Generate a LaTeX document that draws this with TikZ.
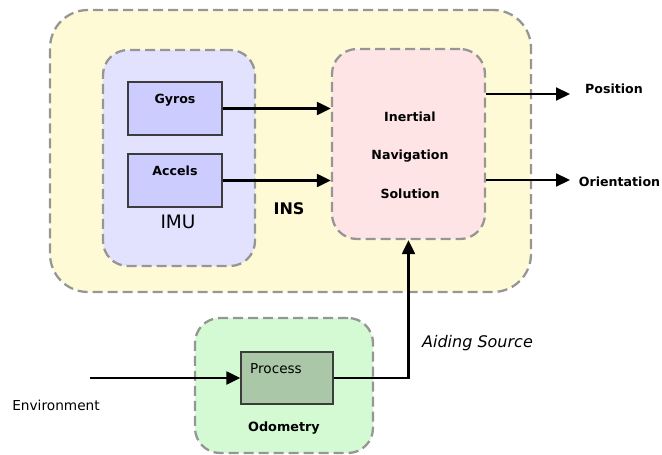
\documentclass[tikz,border=0pt]{standalone}
\usepackage{fontspec}
\setmainfont{DejaVu Sans}
\usetikzlibrary{arrows.meta}

\definecolor{dashgray}{RGB}{150,150,150}
\definecolor{insfill}{RGB}{255,250,214}
\definecolor{imufill}{RGB}{226,226,255}
\definecolor{sensorfill}{RGB}{204,204,255}
\definecolor{navfill}{RGB}{255,228,230}
\definecolor{odofill}{RGB}{212,250,212}
\definecolor{procfill}{RGB}{170,200,168}
\definecolor{edgedark}{RGB}{60,60,60}

\tikzset{
  group/.style={draw=dashgray, line width=2.3pt, dash pattern=on 10pt off 5pt,
    inner sep=0pt, rounded corners=#1},
  group/.default=25pt,
  unit/.style={draw=edgedark, line width=1.3pt, inner sep=0pt},
  flow/.style={line width=2.2pt, -{Triangle[length=14pt,width=13pt]}},
  boldlabel/.style={font=\fontsize{12.6}{14}\selectfont\bfseries, inner sep=0pt},
  reglabel/.style={font=\fontsize{13.6}{16}\selectfont, inner sep=0pt},
}

\begin{document}
\begin{tikzpicture}[x=1pt, y=-1pt]
  \useasboundingbox (0,0) rectangle (662,455);

  % INS enclosure and its inner groups
  \node[group=38pt, fill=insfill, minimum width=481pt, minimum height=282pt] (ins) at (290.5,151) {};
  \node[group, fill=imufill, minimum width=152pt, minimum height=216pt] (imu) at (179,158) {};
  \node[group, fill=navfill, minimum width=153pt, minimum height=190pt] (nav) at (408.5,144) {};

  % Odometry group
  \node[group, fill=odofill, minimum width=178pt, minimum height=135pt] (odo) at (284,385.5) {};

  % Sensor and process blocks
  \node[unit, fill=sensorfill, minimum width=94pt, minimum height=53pt] (gyros) at (175,108.5) {};
  \node[unit, fill=sensorfill, minimum width=94pt, minimum height=53pt] (accels) at (175,180.5) {};
  \node[unit, fill=procfill, minimum width=92pt, minimum height=52pt] (proc) at (287,378) {};

  % Labels
  \node[boldlabel] (gyrostxt) at (175,100) {Gyros};
  \node[boldlabel] (accelstxt) at (175,171) {Accels};
  \node[font=\fontsize{18.5}{20}\selectfont, inner sep=0pt] (imutxt) at (178,222) {IMU};
  \node[font=\fontsize{16}{18}\selectfont\bfseries, inner sep=0pt] (instxt) at (289,209) {INS};
  \node[boldlabel, align=center, font=\fontsize{12.6}{38.5}\selectfont\bfseries] (navtxt) at (410,155)
    {Inertial\\Navigation\\Solution};
  \node[reglabel, anchor=west] (proctxt) at (250,369) {Process};
  \node[font=\fontsize{12.8}{14}\selectfont\bfseries, inner sep=0pt] (odotxt) at (284,428) {Odometry};
  \node[boldlabel] (postxt) at (614,89) {Position};
  \node[boldlabel] (orienttxt) at (619.5,182) {Orientation};
  \node[font=\fontsize{13.7}{16}\selectfont, inner sep=0pt] (envtxt) at (56,405) {Environment};
  \node[font=\fontsize{16}{18}\selectfont\itshape, inner sep=0pt] (aidtxt) at (477.5,343) {Aiding Source};

  % Free ends of the connectors
  \coordinate (posend) at (570,94);
  \coordinate (orientend) at (570,180);
  \coordinate (envstart) at (90,378);

  % Connectors
  \draw[flow] (gyros.east) -- (gyros.east -| nav.west);
  \draw[flow] (accels.east) -- (accels.east -| nav.west);
  \draw[flow] (posend -| nav.east) -- (posend);
  \draw[flow] (orientend -| nav.east) -- (orientend);
  \draw[flow] (envstart) -- (proc.west);
  \draw[flow] (proc.east) -| (nav.south);
\end{tikzpicture}
\end{document}
